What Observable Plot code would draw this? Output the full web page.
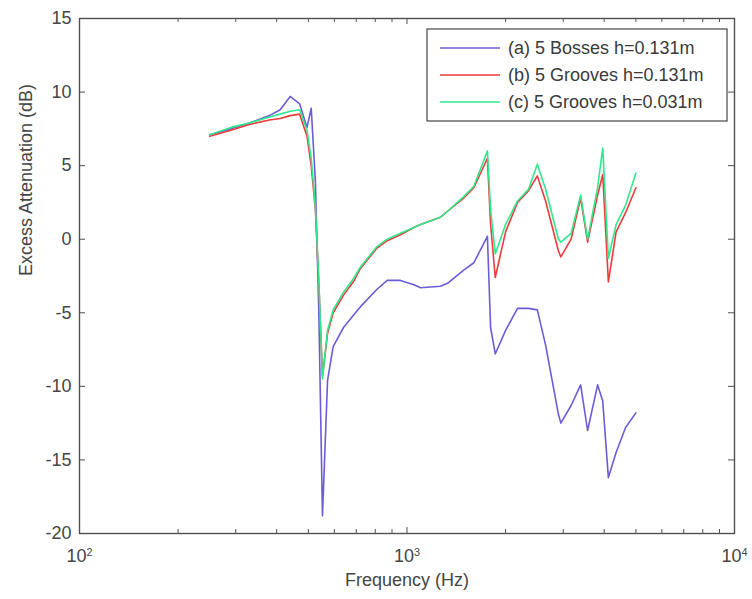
<!DOCTYPE html>
<html>
<head>
<meta charset="utf-8">
<script src="https://cdn.jsdelivr.net/npm/d3@7"></script>
<script src="https://cdn.jsdelivr.net/npm/@observablehq/plot@0.6"></script>
<style>
  body { margin: 0; background: #fff; }
  #chart svg { display: block; }
</style>
</head>
<body>
<div id="chart"></div>
<script>
// Frequencies (Hz) shared by the three measured spectra
const frequency = [250, 290, 330, 380, 410, 440, 470, 495, 510, 525, 538, 552, 572, 595, 640, 690, 720, 810, 870, 955,
  1050, 1100, 1265, 1330, 1490, 1600, 1760, 1800, 1860, 2000, 2175, 2350, 2500, 2650, 2900, 2950, 3170, 3390, 3560,
  3820, 3960, 4120, 4350, 4650, 5000];

// Excess attenuation (dB) for each configuration
const bosses131 = [7.1, 7.5, 7.9, 8.4, 8.8, 9.7, 9.2, 7.6, 8.9, 4.0, -5.0, -18.8, -9.6, -7.3, -6.0, -5.1, -4.6, -3.4, -2.8, -2.8,
  -3.1, -3.3, -3.2, -3.0, -2.1, -1.6, 0.2, -6.0, -7.8, -6.2, -4.7, -4.7, -4.8, -7.2, -11.9, -12.5, -11.3, -9.9, -13.0,
  -9.9, -11.0, -16.2, -14.5, -12.8, -11.8];
const grooves131 = [7.0, 7.4, 7.8, 8.1, 8.2, 8.4, 8.5, 7.0, 5.0, 2.0, -3.0, -9.3, -6.4, -5.0, -3.8, -2.8, -2.0, -0.6, -0.1, 0.3,
  0.8, 1.0, 1.5, 1.9, 2.8, 3.5, 5.5, 1.0, -2.6, 0.5, 2.5, 3.3, 4.3, 2.6, -0.8, -1.2, 0.0, 2.8, -0.2,
  3.0, 4.4, -2.9, 0.5, 1.8, 3.5];
const grooves031 = [7.1, 7.6, 7.9, 8.3, 8.5, 8.7, 8.8, 7.4, 5.5, 2.2, -2.8, -9.5, -6.2, -4.8, -3.6, -2.6, -1.9, -0.5, 0.0, 0.4,
  0.8, 1.0, 1.5, 1.9, 2.9, 3.6, 6.0, 2.0, -1.0, 1.0, 2.6, 3.4, 5.1, 3.4, 0.0, -0.2, 0.4, 3.0, 0.0,
  3.5, 6.2, -1.3, 1.0, 2.3, 4.5];

const seriesNames = ["(a) 5 Bosses h=0.131m", "(b) 5 Grooves h=0.131m", "(c) 5 Grooves h=0.031m"];
const seriesColors = ["#6b5dd6", "#ee3a3a", "#2fe88c"];

const yTicks = [-20, -15, -10, -5, 0, 5, 10, 15];
const xMajorTicks = [100, 1000, 10000];
const xMinorTicks = [200, 300, 400, 500, 600, 700, 800, 900, 2000, 3000, 4000, 5000, 6000, 7000, 8000, 9000];

const xLabel = "Frequency (Hz)";
const yLabel = "Excess Attenuation (dB)";

// Long format table for the line mark
const rows = [];
[bosses131, grooves131, grooves031].forEach((values, i) =>
  values.forEach((v, j) => rows.push({f: frequency[j], v, series: seriesNames[i]}))
);

const W = 752, H = 599;
const mL = 79, mR = 18, mT = 18, mB = 66;
const innerW = W - mL - mR, innerH = H - mT - mB;
const axisColor = "#505050";
const textColor = "#454545";
const font = "'Liberation Sans', Arial, sans-serif";

const plot = Plot.plot({
  width: W,
  height: H,
  marginLeft: mL,
  marginRight: mR,
  marginTop: mT,
  marginBottom: mB,
  style: {fontFamily: font, fontSize: "18px", color: textColor, background: "#fff"},
  x: {type: "log", domain: [100, 10000]},
  y: {domain: [-20, 15]},
  color: {domain: seriesNames, range: seriesColors},
  marks: [
    // inward ticks on all four sides
    Plot.tickX(xMinorTicks, {x: d => d, insetTop: innerH - 4, stroke: axisColor}),
    Plot.tickX(xMinorTicks, {x: d => d, insetBottom: innerH - 4, stroke: axisColor}),
    Plot.tickX(xMajorTicks, {x: d => d, insetTop: innerH - 6, stroke: axisColor}),
    Plot.tickX(xMajorTicks, {x: d => d, insetBottom: innerH - 6, stroke: axisColor}),
    Plot.tickY(yTicks, {y: d => d, insetRight: innerW - 6, stroke: axisColor}),
    Plot.tickY(yTicks, {y: d => d, insetLeft: innerW - 6, stroke: axisColor}),
    Plot.line(rows, {x: "f", y: "v", z: "series", stroke: "series", strokeWidth: 1.6, curve: "linear"}),
    Plot.frame({stroke: axisColor, strokeWidth: 1.4}),
    Plot.axisX({ticks: xMajorTicks, tickSize: 0, tickPadding: 16, label: null,
      tickFormat: d => "10^" + Math.round(Math.log10(d))}),
    Plot.axisY({ticks: yTicks, tickSize: 0, tickPadding: 8, label: null, tickFormat: d => String(d)}),
    Plot.text([xLabel], {frameAnchor: "bottom", dy: 52, fontSize: 18, fill: textColor}),
    Plot.text([yLabel], {frameAnchor: "left", dx: -53, rotate: -90, fontSize: 18, fill: textColor})
  ]
});

// Powers of ten with a raised exponent
d3.select(plot).selectAll('g[aria-label="x-axis tick label"] text').each(function () {
  const t = d3.select(this);
  const [base, exp] = t.text().split("^");
  t.text(null);
  t.append("tspan").text(base);
  t.append("tspan").attr("dy", "-0.55em").attr("font-size", "0.6em").text(exp);
});

// Boxed legend in the upper right corner of the axes
const legend = d3.select(plot).append("g")
  .attr("font-family", font).attr("font-size", 18).attr("fill", "#3a3a3a")
  .attr("text-anchor", "start");
const lx = 427, ly = 29, lw = 300, lh = 92;
legend.append("rect").attr("x", lx).attr("y", ly).attr("width", lw).attr("height", lh)
  .attr("fill", "#fff").attr("stroke", "#444").attr("stroke-width", 1.2);
seriesNames.forEach((name, i) => {
  const y = ly + 19 + i * 27;
  legend.append("line").attr("x1", lx + 13).attr("x2", lx + 73).attr("y1", y).attr("y2", y)
    .attr("stroke", seriesColors[i]).attr("stroke-width", 1.6);
  legend.append("text").attr("x", lx + 81).attr("y", y).attr("dy", "0.35em").text(name);
});

document.getElementById("chart").appendChild(plot);
</script>
</body>
</html>
